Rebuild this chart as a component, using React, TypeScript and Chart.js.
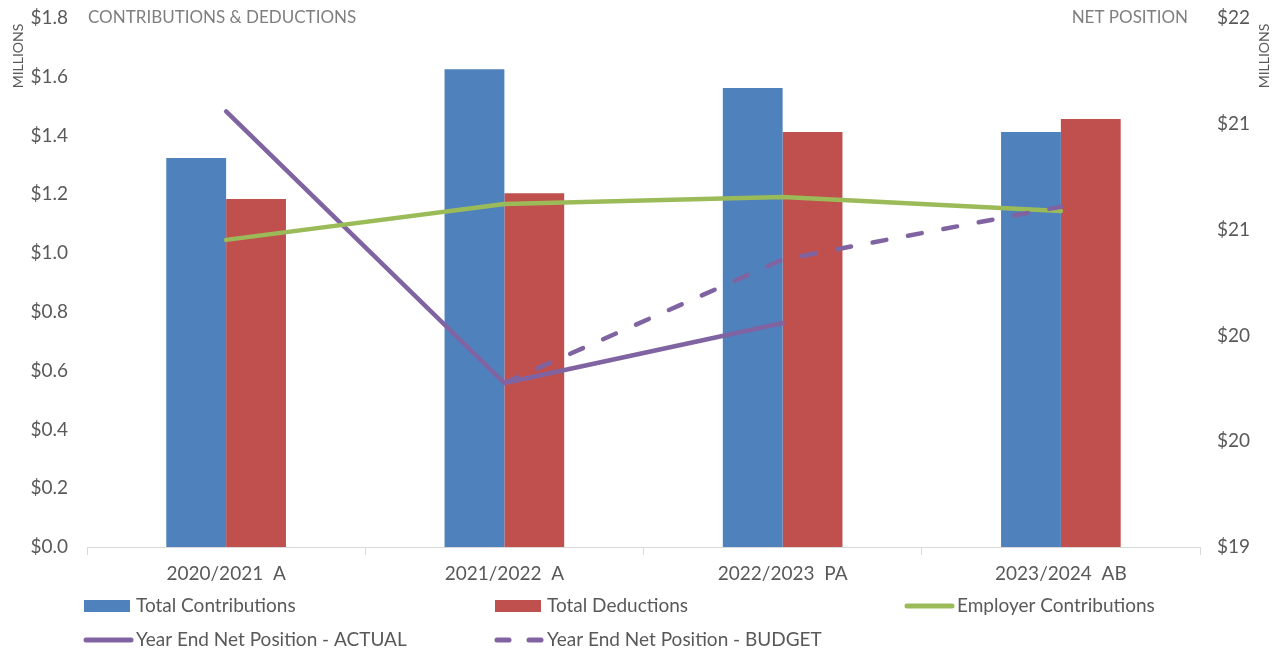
import React, { useEffect, useRef } from "react";
import { Chart, registerables } from "chart.js";

Chart.register(...registerables);

// Fiscal years shown along the bottom axis
const categories = ["2020/2021  A", "2021/2022  A", "2022/2023  PA", "2023/2024  AB"];

// Contributions & deductions, $ millions (left axis)
const totalContributions = [1.324, 1.626, 1.562, 1.412];
const totalDeductions = [1.184, 1.204, 1.412, 1.456];
const employerContributions = [1.045, 1.167, 1.191, 1.143];

// Year-end net position, $ millions (right axis)
const netPositionActual: (number | null)[] = [21.47, 19.93, 20.27, null];
const netPositionBudget: (number | null)[] = [null, 19.93, 20.63, 20.93];

// Axis ranges
const leftAxisRange = [0, 1.8, 0.2];
const rightAxisRange = [19, 22, 0.6];

const leftTitle = "CONTRIBUTIONS & DEDUCTIONS";
const rightTitle = "NET POSITION";
const unitLabel = "MILLIONS";

const FONT = "Lato";
const TEXT = "#595959";
const BLUE = "#4F81BD";
const RED = "#C0504D";
const GREEN = "#9BBB59";
const PURPLE = "#8064A2";
const DASH = [14, 22];

// Headings, unit labels and a grid-style legend below the axis
const decorations = {
  id: "decorations",
  afterDraw(chart: any) {
    const { ctx, chartArea } = chart;
    ctx.save();
    ctx.textBaseline = "middle";
    ctx.fillStyle = "#7F7F7F";
    ctx.font = `17px ${FONT}`;
    ctx.textAlign = "left";
    ctx.fillText(leftTitle, chartArea.left + 1, chartArea.top);
    ctx.textAlign = "right";
    ctx.fillText(rightTitle, chartArea.right - 12, chartArea.top);

    ctx.font = `14px ${FONT}`;
    ctx.fillStyle = TEXT;
    ctx.textAlign = "center";
    for (const x of [18, 1264]) {
      ctx.save();
      ctx.translate(x, 56);
      ctx.rotate(-Math.PI / 2);
      ctx.fillText(unitLabel, 0, 0);
      ctx.restore();
    }

    // legend
    const cols = [84, 495, 905];
    const rows = [606, 640];
    const ds = chart.data.datasets;
    ctx.font = `19px ${FONT}`;
    ctx.textAlign = "left";
    ds.forEach((d: any, i: number) => {
      const x = cols[i % 3];
      const y = rows[Math.floor(i / 3)];
      const color = d.borderColor || d.backgroundColor;
      if (d.type === "bar" || !d.type) {
        ctx.fillStyle = d.backgroundColor;
        ctx.fillRect(x, y - 6, 46, 12);
      } else {
        ctx.strokeStyle = color;
        ctx.lineWidth = 5;
        ctx.lineCap = "round";
        ctx.setLineDash(d.borderDash && d.borderDash.length ? [12, 20] : []);
        ctx.beginPath();
        ctx.moveTo(x + 2, y);
        ctx.lineTo(x + 47, y);
        ctx.stroke();
        ctx.setLineDash([]);
      }
      ctx.fillStyle = TEXT;
      ctx.fillText(d.label, x + 52, y);
    });
    ctx.restore();
  },
};

export default function App() {
  const canvasRef = useRef<HTMLCanvasElement | null>(null);

  useEffect(() => {
    if (!canvasRef.current) return;
    const chart = new Chart(canvasRef.current, {
      type: "bar",
      data: {
        labels: categories,
        datasets: [
          {
            type: "bar",
            label: "Total Contributions",
            data: totalContributions,
            backgroundColor: BLUE,
            yAxisID: "y",
            order: 2,
          },
          {
            type: "bar",
            label: "Total Deductions",
            data: totalDeductions,
            backgroundColor: RED,
            yAxisID: "y",
            order: 2,
          },
          {
            type: "line",
            label: "Employer Contributions",
            data: employerContributions,
            borderColor: GREEN,
            backgroundColor: GREEN,
            borderWidth: 4.5,
            pointRadius: 0,
            borderCapStyle: "round",
            yAxisID: "y",
            order: 1,
          },
          {
            type: "line",
            label: "Year End Net Position - ACTUAL",
            data: netPositionActual,
            borderColor: PURPLE,
            backgroundColor: PURPLE,
            borderWidth: 4.5,
            pointRadius: 0,
            borderCapStyle: "round",
            spanGaps: false,
            yAxisID: "y1",
            order: 1,
          },
          {
            type: "line",
            label: "Year End Net Position - BUDGET",
            data: netPositionBudget,
            borderColor: PURPLE,
            backgroundColor: PURPLE,
            borderWidth: 4.5,
            borderDash: DASH,
            pointRadius: 0,
            borderCapStyle: "round",
            spanGaps: false,
            yAxisID: "y1",
            order: 0,
          },
        ] as any,
      },
      options: {
        animation: false,
        responsive: true,
        maintainAspectRatio: false,
        layout: { padding: { top: 18, left: 0, right: 0, bottom: 0 } },
        datasets: {
          bar: { categoryPercentage: 0.43, barPercentage: 1 },
        },
        plugins: {
          legend: { display: false },
          tooltip: { enabled: false },
        },
        scales: {
          x: {
            offset: true,
            grid: {
              display: true,
              drawOnChartArea: false,
              drawTicks: true,
              tickLength: 8,
              color: "#D9D9D9",
              offset: true,
            },
            border: { display: true, color: "#D9D9D9", width: 1 },
            ticks: {
              color: TEXT,
              font: { family: FONT, size: 19 },
              padding: 7,
              maxRotation: 0,
            },
            afterFit(scale: any) {
              scale.height = 105;
            },
          },
          y: {
            position: "left",
            min: leftAxisRange[0],
            max: leftAxisRange[1],
            grid: { display: false, drawTicks: false },
            border: { display: false },
            ticks: {
              stepSize: leftAxisRange[2],
              color: TEXT,
              font: { family: FONT, size: 19 },
              padding: 19,
              callback: (v: any) => "$" + Number(v).toFixed(1),
            },
            afterFit(scale: any) {
              scale.width = 87;
              scale.paddingTop = 0;
              scale.paddingBottom = 0;
            },
          },
          y1: {
            position: "right",
            min: rightAxisRange[0],
            max: rightAxisRange[1],
            grid: { display: false, drawTicks: false },
            border: { display: false },
            ticks: {
              stepSize: rightAxisRange[2],
              color: TEXT,
              font: { family: FONT, size: 19 },
              padding: 17,
              callback: (v: any) => "$" + Number(v).toFixed(0),
            },
            afterFit(scale: any) {
              scale.width = 80;
              scale.paddingTop = 0;
              scale.paddingBottom = 0;
            },
          },
        },
      } as any,
      plugins: [decorations],
    });
    return () => chart.destroy();
  }, []);

  return (
    <div
      style={{
        position: "fixed",
        left: 0,
        top: 0,
        width: 1280,
        height: 652,
        background: "#ffffff",
      }}
    >
      <canvas ref={canvasRef} />
    </div>
  );
}
